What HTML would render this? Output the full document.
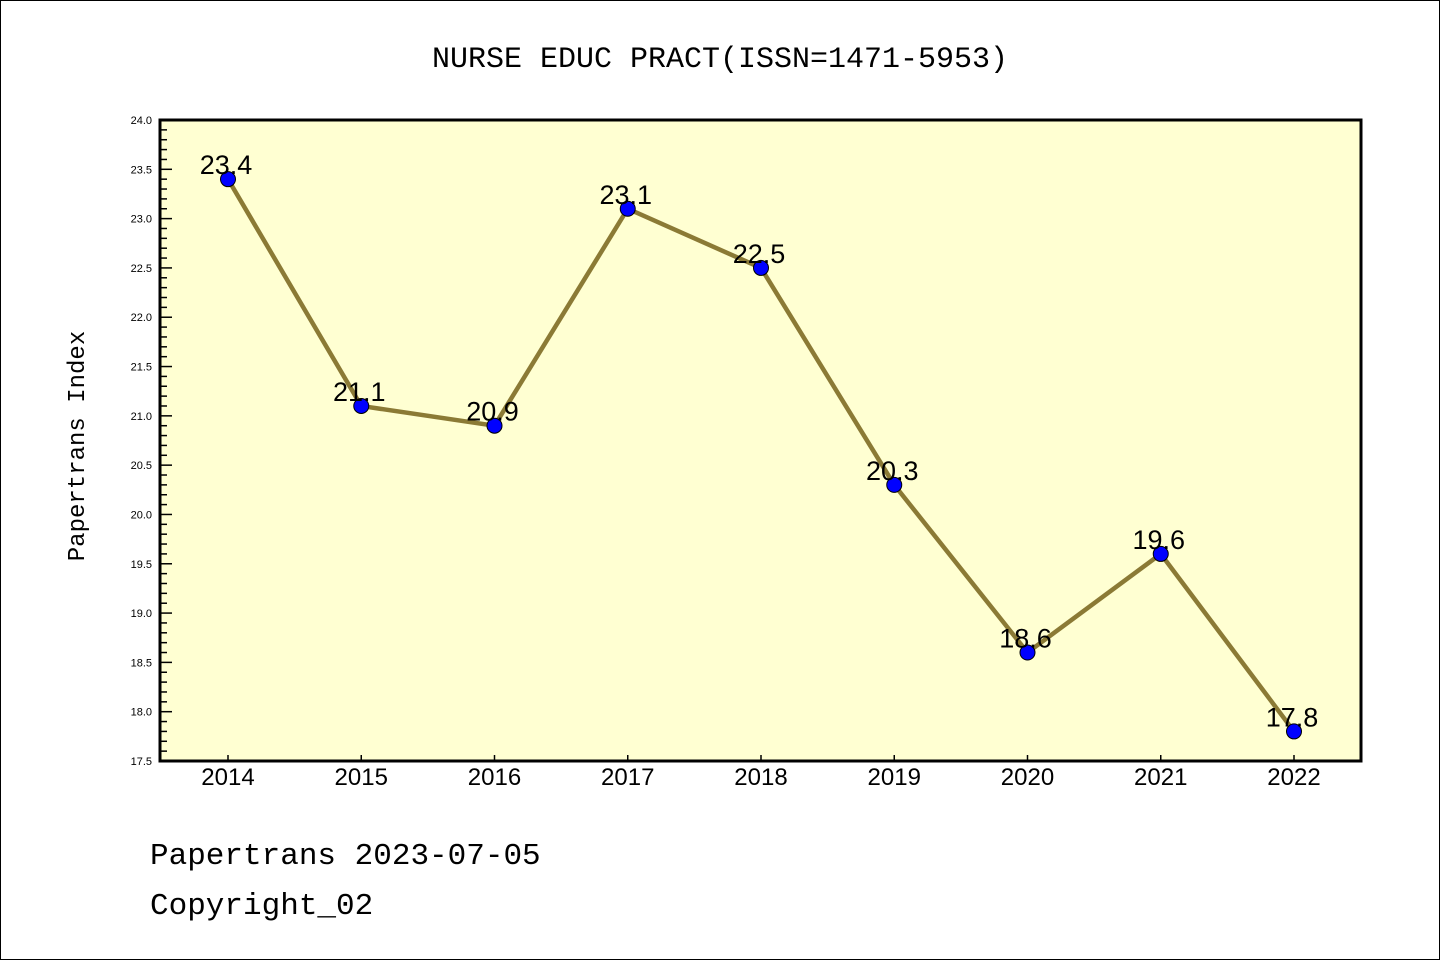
<!DOCTYPE html>
<html><head><meta charset="utf-8"><style>
html,body{margin:0;padding:0;background:#fff}
svg{display:block;font-family:"Liberation Sans","DejaVu Sans",sans-serif}
</style></head><body>
<svg id="chart" width="1440" height="960" viewBox="0 0 1440 960" xmlns="http://www.w3.org/2000/svg">
<rect x="0.5" y="0.5" width="1439" height="959" fill="#fff" stroke="#000"/>
<text x="720" y="67" font-size="30" text-anchor="middle" font-family="Liberation Mono, DejaVu Sans Mono, monospace">NURSE EDUC PRACT(ISSN=1471-5953)</text>
<rect x="160" y="120" width="1201" height="641" fill="#ffffd2"/>
<g id="yticks"></g>
<g id="xticks"></g>
<g id="series"></g>
<rect x="160" y="120" width="1201" height="641" fill="none" stroke="#000" stroke-width="3"/>
<text transform="translate(84,446) rotate(-90)" font-size="24" text-anchor="middle" font-family="Liberation Mono, DejaVu Sans Mono, monospace">Papertrans Index</text>
<text x="150" y="864" font-size="31" font-family="Liberation Mono, DejaVu Sans Mono, monospace">Papertrans 2023-07-05</text>
<text x="150" y="914" font-size="31" font-family="Liberation Mono, DejaVu Sans Mono, monospace">Copyright_02</text>
</svg>
<script>
const years = [2014,2015,2016,2017,2018,2019,2020,2021,2022];
const values = [23.4,21.1,20.9,23.1,22.5,20.3,18.6,19.6,17.8];
const yTickLabels = ["17.5","18.0","18.5","19.0","19.5","20.0","20.5","21.0","21.5","22.0","22.5","23.0","23.5","24.0"];
const NS="http://www.w3.org/2000/svg";
const yMin=17.5,yMax=24.0,plotTop=120,plotBottom=761,plotLeft=160,plotRight=1361;
const x0=228,x1=1294;
function yScale(v){return plotBottom-(v-yMin)/(yMax-yMin)*(plotBottom-plotTop);}
function xScale(i){return x0+i*(x1-x0)/(years.length-1);}
function mk(tag,attrs,parent){const e=document.createElementNS(NS,tag);for(const k in attrs)e.setAttribute(k,attrs[k]);parent.appendChild(e);return e;}
const yg=document.getElementById('yticks');
for(let k=0;k<=65;k++){
  const v=yMin+k*0.1;const y=yScale(v);const major=k%5===0;
  const t=mk('line',{x1:plotLeft,x2:plotLeft+(major?12:7),y1:y,y2:y,stroke:'#000','stroke-width':1.5},yg);
  
  
}
yTickLabels.forEach(s=>{
  const y=yScale(parseFloat(s));
  const t=mk('text',{x:152,y:y+4,'font-size':11,'text-anchor':'end'},yg);
  t.textContent=s;
  
  
});
const xg=document.getElementById('xticks');
years.forEach((yr,i)=>{
  const x=xScale(i);
  const l=mk('line',{x1:x,x2:x,y1:plotBottom,y2:plotBottom-6,stroke:'#000','stroke-width':1.5},xg);
  
  
  const t=mk('text',{x:x,y:785,'font-size':24,'text-anchor':'middle'},xg);
  t.textContent=yr;
  
  
});
const sg=document.getElementById('series');
const pts=values.map((v,i)=>xScale(i)+','+yScale(v)).join(' ');
const pl=mk('polyline',{points:pts,fill:'none',stroke:'#8b7a35','stroke-width':4.5},sg);


values.forEach((v,i)=>{
  const c=mk('circle',{cx:xScale(i),cy:yScale(v),r:7.5,fill:'#0000ff',stroke:'#000','stroke-width':1},sg);
  
  
});
values.forEach((v,i)=>{
  const t=mk('text',{x:xScale(i)-2,y:yScale(v)-5,'font-size':27,'text-anchor':'middle'},sg);
  t.textContent=v.toFixed(1);
  
  
});
</script>
</body></html>
